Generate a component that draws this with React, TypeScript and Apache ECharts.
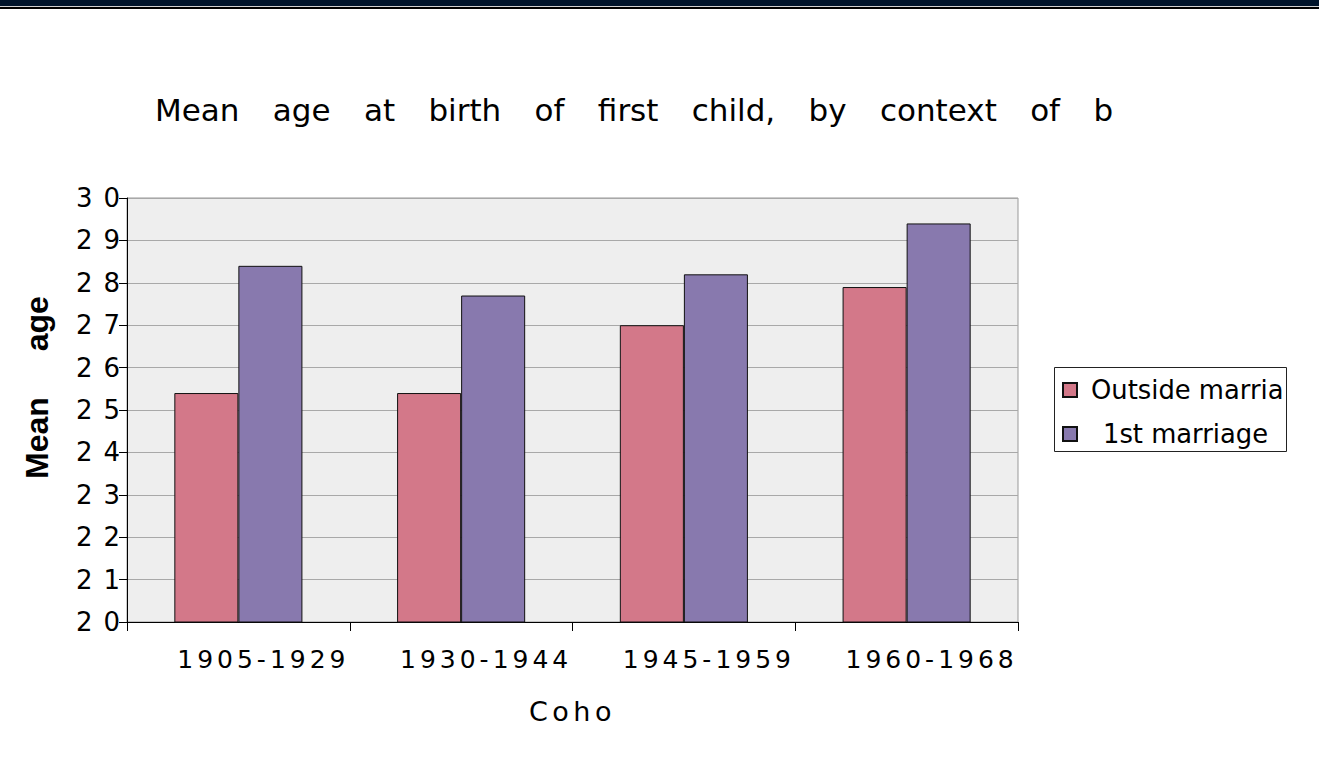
import React, { useEffect, useRef } from 'react';
import * as echarts from 'echarts';

const categories = ['1905-1929', '1930-1944', '1945-1959', '1960-1968'];
const outsideMarriage = [25.4, 25.4, 27.0, 27.9];
const firstMarriage = [28.4, 27.7, 28.2, 29.4];
const seriesNames = ['Outside marriage', '1st marriage'];
const titleText = 'Mean age at birth of first child, by context of b';
const yAxisName = 'Mean age';
const xAxisName = 'Coho';
const yMin = 20;
const yMax = 30;
const yStep = 1;

const css = `
.chart-root text[style*="31px"] { word-spacing: 23.5px; }
.chart-root text[style*="26px"] { letter-spacing: 11px; }
.chart-root text[style*="25px"] { letter-spacing: 4px; }
.chart-root text[style*="27px"] { letter-spacing: 4.5px; }
.chart-root text[style*="32px"] { word-spacing: 37px; }
`;

export default function App() {
  const ref = useRef<HTMLDivElement>(null);
  useEffect(() => {
    if (!ref.current) return;
    const chart = echarts.init(ref.current, undefined, { renderer: 'svg' });
    const font = 'DejaVu Sans';
    chart.setOption({
      animation: false,
      backgroundColor: '#ffffff',
      title: {
        text: titleText,
        left: 155,
        top: 94,
        padding: 0,
        textStyle: { fontFamily: font, fontSize: 31, fontWeight: 'normal', color: '#000' },
      },
      graphic: [
        { type: 'rect', shape: { x: 0, y: 0, width: 1319, height: 6 }, style: { fill: '#00142b' }, silent: true },
        { type: 'rect', shape: { x: 0, y: 6, width: 1319, height: 1 }, style: { fill: '#d0d0d0' }, silent: true },
        { type: 'rect', shape: { x: 0, y: 7, width: 1319, height: 2 }, style: { fill: '#000000' }, silent: true },
        {
          type: 'rect',
          shape: { x: 1054.5, y: 367.5, width: 232, height: 84 },
          style: { fill: 'none', stroke: '#222', lineWidth: 1 },
          silent: true,
          z: 0,
        },
      ],
      legend: {
        orient: 'vertical',
        left: 1062,
        top: 375,
        padding: 0,
        itemWidth: 14,
        itemHeight: 14,
        itemGap: 14,
        icon: 'rect',
        data: [
          { name: seriesNames[0], textStyle: { padding: [0, 0, 0, 9] } },
          { name: seriesNames[1], textStyle: { padding: [0, 0, 0, 21] } },
        ],
        textStyle: {
          fontFamily: font,
          fontSize: 25.8,
          lineHeight: 30,
          color: '#000',
          width: 205,
          overflow: 'truncate',
          ellipsis: '',
        },
      },
      grid: {
        left: 127,
        right: 301,
        top: 198,
        bottom: 146,
        show: true,
        backgroundColor: '#eeeeee',
        borderColor: '#999999',
        borderWidth: 1,
      },
      xAxis: {
        type: 'category',
        data: categories,
        name: xAxisName,
        nameLocation: 'middle',
        nameGap: 76,
        nameTextStyle: { fontFamily: font, fontSize: 27, color: '#000' },
        axisLine: { lineStyle: { color: '#000', width: 1 } },
        axisTick: { show: true, length: 9, lineStyle: { color: '#000' } },
        axisLabel: {
          interval: 0,
          margin: 25,
          fontFamily: font,
          fontSize: 25,
          color: '#000',
          padding: [0, 0, 0, 50],
        },
      },
      yAxis: {
        type: 'value',
        min: yMin,
        max: yMax,
        interval: yStep,
        name: yAxisName,
        nameLocation: 'middle',
        nameGap: 74,
        nameTextStyle: {
          fontFamily: 'Liberation Sans',
          fontSize: 32,
          fontWeight: 'bold',
          color: '#000',
          padding: [0, 0, 0, 45],
        },
        axisLine: { show: true, lineStyle: { color: '#000', width: 1 } },
        axisTick: { show: true, length: 8, lineStyle: { color: '#000' } },
        axisLabel: { margin: -4, fontFamily: font, fontSize: 26, color: '#000' },
        splitLine: { lineStyle: { color: '#a8a8a8', width: 1 } },
      },
      series: [
        {
          name: seriesNames[0],
          type: 'bar',
          data: outsideMarriage,
          barGap: '0%',
          barCategoryGap: '42.5%',
          itemStyle: { color: '#d37889', borderColor: '#111', borderWidth: 1 },
        },
        {
          name: seriesNames[1],
          type: 'bar',
          data: firstMarriage,
          barGap: '0%',
          barCategoryGap: '42.5%',
          itemStyle: { color: '#8879ae', borderColor: '#111', borderWidth: 1 },
        },
      ],
    });
    return () => chart.dispose();
  }, []);
  return (
    <div style={{ position: 'fixed', left: 0, top: 0, width: 1319, height: 768, background: '#fff' }}>
      <style>{css}</style>
      <div className="chart-root" ref={ref} style={{ width: 1319, height: 768 }} />
    </div>
  );
}
